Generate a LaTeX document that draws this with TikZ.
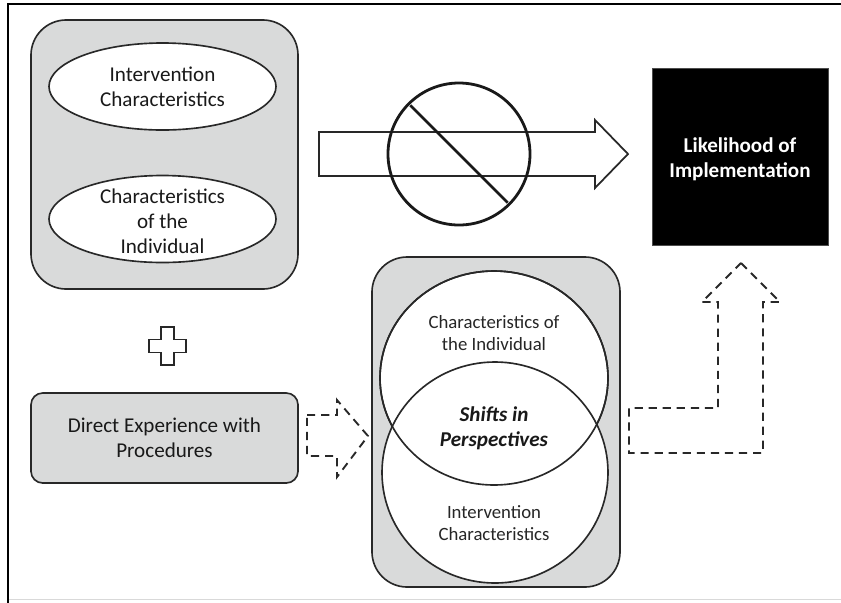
\documentclass[tikz,border=0pt]{standalone}
\usepackage{fontspec}
\setmainfont{Carlito}
\usetikzlibrary{shapes.geometric}
\definecolor{boxgray}{RGB}{217,218,218}
\definecolor{inkgray}{RGB}{40,40,40}

\begin{document}
\begin{tikzpicture}[x=0.03cm,y=-0.03cm,
    bigtext/.style={font=\fontsize{18}{21.5}\selectfont,text=black!90,align=center},
    smalltext/.style={font=\fontsize{16}{18.5}\selectfont,text=black!85,align=center},
    graybox/.style={rectangle,draw=inkgray,fill=boxgray,line width=1.4pt,inner sep=0pt},
    oval/.style={ellipse,draw=inkgray,fill=white,line width=1.4pt,inner sep=0pt},
    dashedarrow/.style={draw=inkgray,line width=1.6pt,dash pattern=on 7pt off 5pt,line join=miter}]
    \useasboundingbox (0,0) rectangle (841,602);
    % frame
    \draw [line width=1.6pt] (8,604) -- (8,4) -- (843,4);
    \draw [black!15,line width=1pt] (9,599.5) -- (841,599.5);

    % left group
    \node [graybox,rounded corners=30pt,minimum width=8.01cm,minimum height=8.07cm] (leftbox) at (164.5,154.5) {};
    \node [oval,minimum width=6.81cm,minimum height=2.61cm] (intchar) at (162.5,86.5) {};
    \node [bigtext] (intchartext) at (intchar) {Intervention\\Characteristics};
    \node [oval,minimum width=6.81cm,minimum height=2.61cm] (indchar) at (162.5,219) {};
    \node [bigtext] (indchartext) at (162.5,221) {Characteristics\\of the\\Individual};

    % likelihood
    \node [rectangle,fill=black,draw=black!70,minimum width=5.28cm,minimum height=5.31cm] (likely) at (740,156.5) {};
    \node [font=\bfseries\fontsize{18}{21.5}\selectfont,text=white,align=center] (likelytext) at (740,159) {Likelihood of\\Implementation};

    % blocked arrow
    \draw [line width=1.5pt,draw=inkgray,fill=white,line join=miter] (319,132) -- (595,132) -- (595,120) -- (628,154)
        -- (595,188) -- (595,176) -- (319,176) -- cycle;
    \node [circle,draw=black!90,line width=2.4pt,minimum size=4.26cm,inner sep=0pt] (nosign) at (459,154) {};
    \draw [black!90,line width=2.4pt,shorten <=3pt,shorten >=3pt] (nosign.135) -- (nosign.-45);

    % plus
    \draw [draw=inkgray,line width=1.4pt,shift={(167.5,346)}] (-6.5,-19) -- (6.5,-19) -- (6.5,-6.5) -- (18.5,-6.5)
        -- (18.5,6.5) -- (6.5,6.5) -- (6.5,19) -- (-6.5,19) -- (-6.5,6.5) -- (-18.5,6.5) -- (-18.5,-6.5) -- (-6.5,-6.5) -- cycle;

    % direct experience
    \node [graybox,rounded corners=10pt,minimum width=8.01cm,minimum height=2.7cm,bigtext] (direct) at (164.5,438) {Direct Experience with\\Procedures};
    \draw [dashedarrow] (307,415) -- (337,415) -- (337,400) -- (368,436) -- (337,477) -- (337,456) -- (307,456) -- cycle;

    % shifts in perspectives
    \node [graybox,rounded corners=30pt,minimum width=7.44cm,minimum height=9.9cm] (rightbox) at (496,422) {};
    \node [oval,minimum width=6.84cm,minimum height=6.42cm] (venntop) at (494,378) {};
    \node [oval,minimum width=6.78cm,minimum height=6.63cm] (vennbot) at (495,472.5) {};
    \draw [draw=inkgray,line width=1.4pt] (venntop.center) ellipse [x radius=3.42cm,y radius=3.21cm];
    %\draw [draw=inkgray,line width=1.4pt] (vennbot.center) ellipse [x radius=3.39cm,y radius=3.315cm];
    \node [smalltext] (venntoptext) at (494,333) {Characteristics of\\the Individual};
    \node [bigtext,font=\bfseries\itshape\fontsize{18}{21.5}\selectfont] (shifts) at (494,428) {Shifts in\\Perspectives};
    \node [smalltext] (vennbottext) at (494,523) {Intervention\\Characteristics};

    % into likelihood
    \draw [dashedarrow] (741,263) -- (780,302) -- (763,302) -- (763,453) -- (629,453) -- (629,408) -- (718,408)
        -- (718,302) -- (702,302) -- cycle;
\end{tikzpicture}
\end{document}
